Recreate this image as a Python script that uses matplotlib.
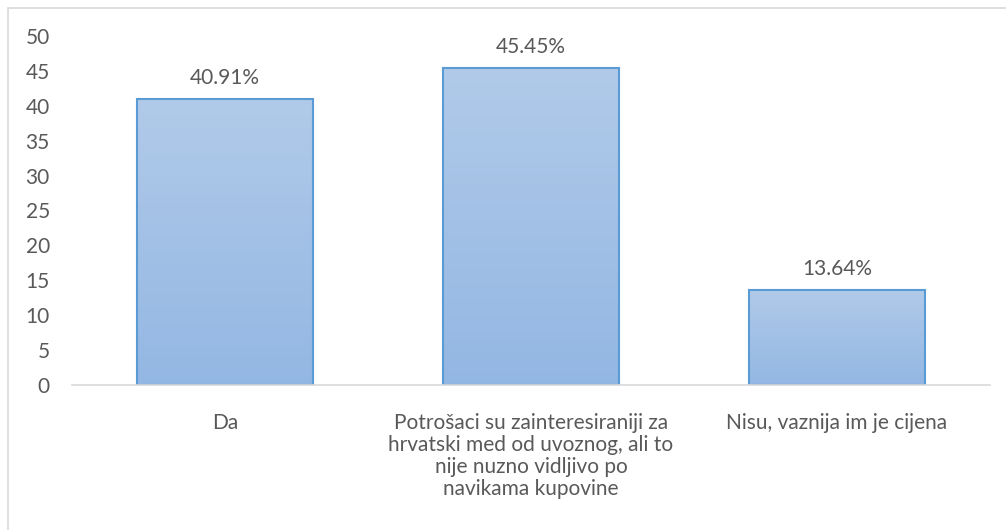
import numpy as np
import matplotlib
matplotlib.use("Agg")
import matplotlib.pyplot as plt
from matplotlib.colors import LinearSegmentedColormap
from matplotlib.patches import Rectangle

plt.rcParams.update({
    "font.family": ["Lato", "DejaVu Sans"],
    "font.size": 15,
})

categories = [
    "Da",
    "Potrošaci su zainteresiraniji za\nhrvatski med od uvoznog, ali to\nnije nuzno vidljivo po\nnavikama kupovine",
    "Nisu, vaznija im je cijena",
]
values = [40.91, 45.45, 13.64]
value_labels = ["40.91%", "45.45%", "13.64%"]
yticks = [0, 5, 10, 15, 20, 25, 30, 35, 40, 45, 50]

TEXT = "#595959"
EDGE = "#5b9bd5"
grad = LinearSegmentedColormap.from_list("g", ["#93b7e3", "#b1cae9"])

fig = plt.figure(figsize=(10.06, 5.30), dpi=100)
ax = fig.add_axes([72 / 1006, 145 / 530, 918 / 1006, 349 / 530])

# chart-area border (Excel style), runs off the right and bottom edges
fig.patches.append(Rectangle((8 / 1006, -0.1), 1.2, (522 / 530) + 0.1,
                             transform=fig.transFigure, fill=False,
                             edgecolor="#d9d9d9", linewidth=1.2, zorder=0))

x = np.arange(len(categories))
bars = ax.bar(x, values, width=0.572, facecolor="none", edgecolor=EDGE,
              linewidth=1.5, zorder=3)
g = np.linspace(0, 1, 256).reshape(-1, 1)
for b in bars:
    x0, w, h = b.get_x(), b.get_width(), b.get_height()
    im = ax.imshow(g, cmap=grad, aspect="auto", origin="lower",
                   extent=[x0, x0 + w, 0, h], zorder=2)
    im.set_clip_path(b)

for xi, v, lab in zip(x, values, value_labels):
    ax.annotate(lab, (xi, v), xytext=(0, 8), textcoords="offset points",
                ha="center", va="bottom", color=TEXT, fontsize=15)

ax.set_xlim(-0.5, 2.5)
ax.set_ylim(0, 50)
ax.set_yticks(yticks)
ax.set_xticks(x)
ax.set_xticklabels(categories, color=TEXT, linespacing=1.12)
ax.tick_params(axis="y", length=0, pad=16, colors=TEXT, labelsize=15)
ax.tick_params(axis="x", length=0, pad=20, colors=TEXT, labelsize=15)
for s in ["top", "right", "left"]:
    ax.spines[s].set_visible(False)
ax.spines["bottom"].set_color("#d9d9d9")
ax.spines["bottom"].set_linewidth(1.2)
ax.spines["bottom"].set_zorder(4)

fig.savefig("out.png", dpi=100)
